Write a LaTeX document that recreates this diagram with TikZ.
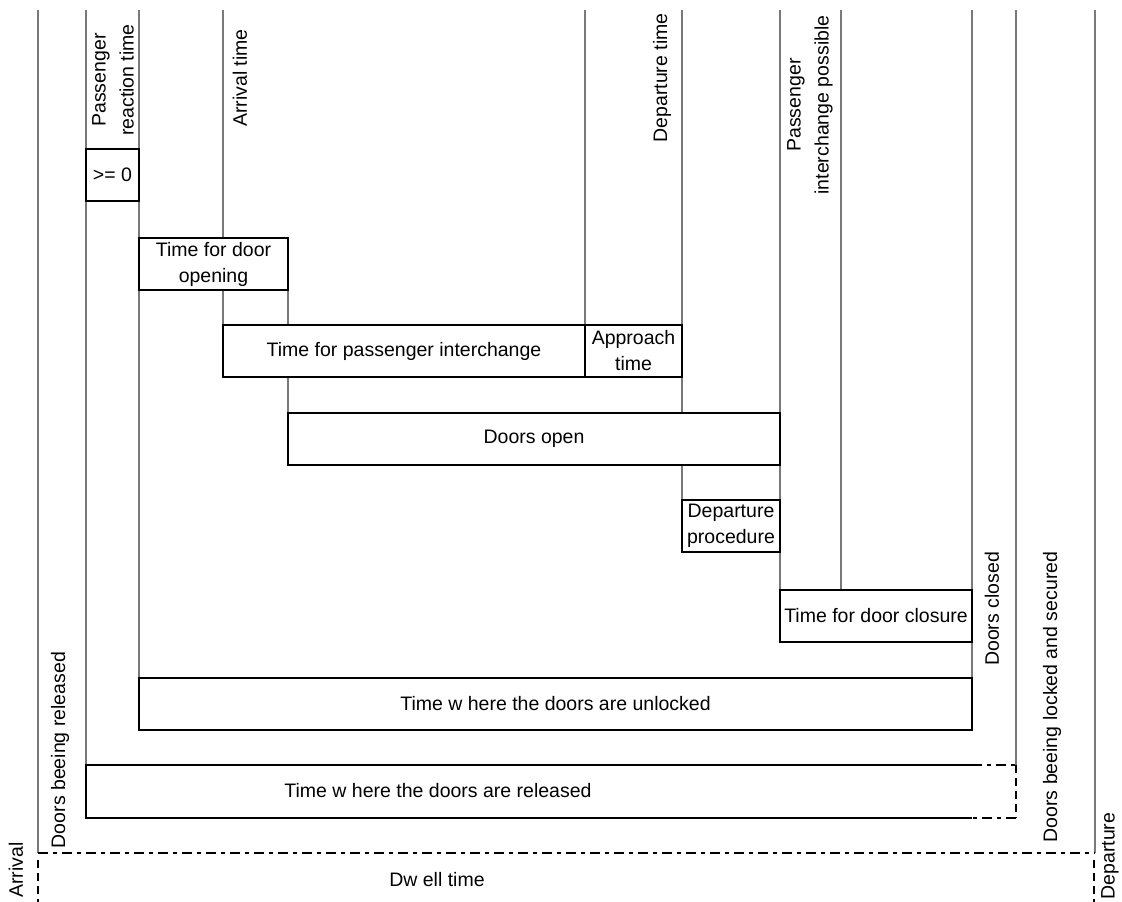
\documentclass[tikz,border=0pt]{standalone}
\usepackage{fontspec}
\setmainfont{Liberation Sans}
\begin{document}
\begin{tikzpicture}[x=1pt,y=-1pt,
  tline/.style={draw=gray!95!black,line width=1.8pt},
  box/.style={draw=black,line width=2pt,fill=white,inner sep=0pt,minimum height=52pt,align=center,font=\fontsize{19.5}{26}\selectfont},
  boxline/.style={draw=black,line width=2pt},
  dashdotline/.style={draw=black,line width=1.8pt,dash pattern=on 10pt off 5pt on 4pt off 5pt},
  dashline/.style={draw=black,line width=1.8pt,dash pattern=on 8pt off 5pt},
  lab/.style={inner sep=0pt,align=center,rotate=90,font=\fontsize{19.5}{28}\selectfont},
  txt/.style={inner sep=0pt,align=center,font=\fontsize{19.5}{26}\selectfont}]
\useasboundingbox (0,0) rectangle (1122,902);
% timeline lines
\draw[tline] (38,10) -- (38,853);
\draw[tline] (86,10) -- (86,149);
\draw[tline] (86,201) -- (86,765);
\draw[tline] (139,10) -- (139,149);
\draw[tline] (139,201) -- (139,238);
\draw[tline] (139,290) -- (139,678);
\draw[tline] (223,10) -- (223,325);
\draw[tline] (288,290) -- (288,413);
\draw[tline] (585,10) -- (585,325);
\draw[tline] (682,10) -- (682,325);
\draw[tline] (682,377) -- (682,500);
\draw[tline] (780,10) -- (780,413);
\draw[tline] (780,465) -- (780,590);
\draw[tline] (841,10) -- (841,590);
\draw[tline] (972,10) -- (972,678);
\draw[tline] (1016,10) -- (1016,765);
\draw[tline] (1095,10) -- (1095,853);
% boxes
\node[box,minimum width=53pt] (b0) at (112.5,175) {>= 0};
\node[box,minimum width=149pt] (b1) at (213.5,264) {Time for door\\opening};
\node[box,minimum width=362pt] (b2) at (404,351) {Time for passenger interchange};
\node[box,minimum width=97pt] (b3) at (633.5,351) {Approach\\time};
\node[box,minimum width=492pt] (b4) at (534,439) {Doors open};
\node[box,minimum width=98pt] (b5) at (731,526) {Departure\\procedure};
\node[box,minimum width=192pt] (b6) at (876,616) {Time for door closure};
\node[box,minimum width=833pt] (b7) at (555.5,704) {Time w here the doors are unlocked};
% released box
\draw[boxline] (972,765) -- (86,765) -- (86,818) -- (972,818);
\draw[dashdotline] (972,765) -- (1016,765);
\draw[dashline] (1016,765) -- (1016,818);
\draw[dashdotline] (1016,818) -- (972,818);
\node[txt] (b8) at (438,791) {Time w here the doors are released};
% dwell time
\draw[dashdotline] (38,853) -- (1095,853);
\draw[dashline] (38,860) -- (38,902);
\draw[dashline] (1094,860) -- (1094,902);
\node[txt] (dwell) at (437,880) {Dw ell time};
% rotated labels
\node[lab] (lprt) at (113,80) {Passenger\\reaction time};
\node[lab] (lat) at (240,78) {Arrival time};
\node[lab] (ldt) at (662,78) {Departure time};
\node[lab] (lpip) at (810,105) {Passenger\\interchange possible};
\node[lab] (ldc) at (992,609) {Doors closed};
\node[lab] (ldl) at (1052,697) {Doors beeing locked and secured};
\node[lab] (ldr) at (60,750) {Doors beeing released};
\node[lab] (larr) at (16,870) {Arrival};
\node[lab] (ldep) at (1110,856) {Departure};
\end{tikzpicture}
\end{document}
